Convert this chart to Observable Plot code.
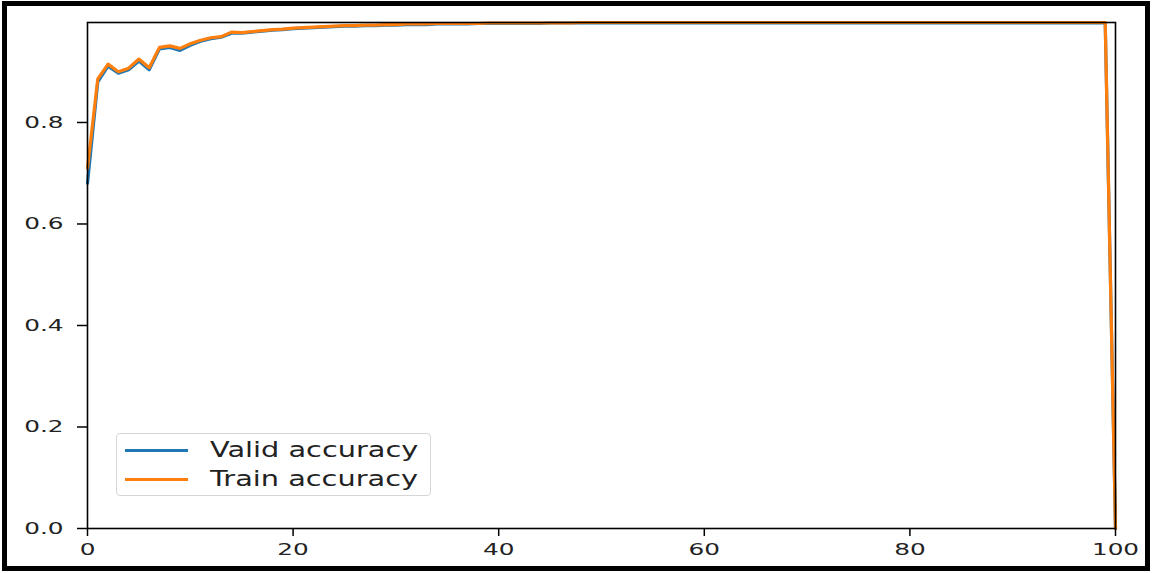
<!DOCTYPE html>
<html>
<head>
<meta charset="utf-8">
<script src="https://cdn.jsdelivr.net/npm/d3@7"></script>
<script src="https://cdn.jsdelivr.net/npm/@observablehq/plot@0.6"></script>
<style>
  html, body { margin: 0; padding: 0; background: #fff; }
  #wrap { position: relative; width: 1153px; height: 574px; overflow: hidden; }
  #border {
    position: absolute; left: 2px; top: 1px; width: 1148px; height: 570px;
    box-sizing: border-box; border: 5px solid #000; pointer-events: none;
  }
  #legend {
    position: absolute; left: 116px; top: 433px; width: 315px; height: 63px;
    box-sizing: border-box; border: 1.5px solid #d6d6d6; border-radius: 4px;
    background: rgba(255,255,255,0.8);
    font-family: "DejaVu Sans", sans-serif; font-size: 21px; color: #222;
  }
  .entry { position: absolute; left: 8px; height: 28px; display: flex; align-items: center; }
  .swatch { width: 63px; height: 3px; margin-right: 22px; flex: none; }
  .label { display: inline-block; transform: scaleX(1.37); transform-origin: left center; white-space: nowrap; }
</style>
</head>
<body>
<div id="wrap">
  <div id="chart"></div>
  <div id="legend"></div>
  <div id="border"></div>
</div>
<script>
// Accuracy per epoch for the validation and training runs
const epochs = [
  0, 1, 2, 3, 4, 5, 6, 7, 8, 9,
  10, 11, 12, 13, 14, 15, 16, 17, 18, 19,
  20, 21, 22, 23, 24, 25, 26, 27, 28, 29,
  30, 31, 32, 33, 34, 35, 36, 37, 38, 39,
  40, 41, 42, 43, 44, 45, 46, 47, 48, 49,
  50, 51, 52, 53, 54, 55, 56, 57, 58, 59,
  60, 61, 62, 63, 64, 65, 66, 67, 68, 69,
  70, 71, 72, 73, 74, 75, 76, 77, 78, 79,
  80, 81, 82, 83, 84, 85, 86, 87, 88, 89,
  90, 91, 92, 93, 94, 95, 96, 97, 98, 99,
  100
];

const validAccuracy = [
  0.680, 0.880, 0.911, 0.897, 0.904, 0.921, 0.904, 0.945, 0.948, 0.942,
  0.952, 0.960, 0.965, 0.968, 0.976, 0.976, 0.978, 0.980, 0.982, 0.983,
  0.985, 0.986, 0.987, 0.988, 0.989, 0.990, 0.990, 0.991, 0.991, 0.992,
  0.992, 0.993, 0.993, 0.993, 0.994, 0.994, 0.994, 0.994, 0.995, 0.995,
  0.995, 0.995, 0.995, 0.995, 0.995, 0.996, 0.996, 0.996, 0.996, 0.996,
  0.996, 0.996, 0.996, 0.996, 0.996, 0.996, 0.996, 0.996, 0.996, 0.996,
  0.996, 0.996, 0.996, 0.996, 0.996, 0.996, 0.996, 0.996, 0.996, 0.996,
  0.996, 0.996, 0.996, 0.996, 0.996, 0.996, 0.996, 0.996, 0.996, 0.996,
  0.996, 0.996, 0.996, 0.996, 0.996, 0.996, 0.996, 0.996, 0.996, 0.996,
  0.996, 0.996, 0.996, 0.996, 0.996, 0.996, 0.996, 0.996, 0.996, 0.996,
  0.000
];

const trainAccuracy = [
  0.710, 0.886, 0.915, 0.900, 0.907, 0.925, 0.908, 0.948, 0.951, 0.946,
  0.955, 0.962, 0.967, 0.969, 0.978, 0.977, 0.979, 0.981, 0.983, 0.984,
  0.986, 0.987, 0.988, 0.989, 0.990, 0.991, 0.991, 0.992, 0.992, 0.993,
  0.993, 0.994, 0.994, 0.994, 0.995, 0.995, 0.995, 0.995, 0.995, 0.996,
  0.996, 0.996, 0.996, 0.996, 0.996, 0.996, 0.996, 0.996, 0.997, 0.997,
  0.997, 0.997, 0.997, 0.997, 0.997, 0.997, 0.997, 0.997, 0.997, 0.997,
  0.997, 0.997, 0.997, 0.997, 0.997, 0.997, 0.997, 0.997, 0.997, 0.997,
  0.997, 0.997, 0.997, 0.997, 0.997, 0.997, 0.997, 0.997, 0.997, 0.997,
  0.997, 0.997, 0.997, 0.997, 0.997, 0.997, 0.997, 0.997, 0.997, 0.997,
  0.997, 0.997, 0.997, 0.997, 0.997, 0.997, 0.997, 0.997, 0.997, 0.997,
  0.000
];

const seriesNames = ["Valid accuracy", "Train accuracy"];
const seriesColors = ["#1f77b4", "#ff7f0e"];
const xTicks = [0, 20, 40, 60, 80, 100];
const yTicks = [0.0, 0.2, 0.4, 0.6, 0.8];

const rows = [];
[validAccuracy, trainAccuracy].forEach((vals, s) => {
  vals.forEach((v, i) => rows.push({epoch: epochs[i], acc: v, series: seriesNames[s]}));
});

const chart = Plot.plot({
  width: 1153,
  height: 574,
  marginLeft: 87,
  marginRight: 38,
  marginTop: 22,
  marginBottom: 46,
  style: {fontFamily: "'DejaVu Sans', sans-serif", fontSize: "16.5px", color: "#222", background: "transparent"},
  x: {domain: [0, 100], ticks: xTicks},
  y: {domain: [0, 0.997], ticks: yTicks},
  color: {domain: seriesNames, range: seriesColors},
  marks: [
    Plot.line(rows, {x: "epoch", y: "acc", z: "series", stroke: "series", strokeWidth: 3.2, strokeLinejoin: "round"}),
    Plot.axisX({ticks: xTicks, tickSize: 8, tickPadding: 7, tickFormat: d => String(d), label: null, stroke: "#000", strokeWidth: 1.5, fill: "#222"}),
    Plot.axisY({ticks: yTicks, tickSize: 10, tickPadding: 14, tickFormat: d => d.toFixed(1), label: null, stroke: "#000", strokeWidth: 1.5, fill: "#222"}),
    Plot.frame({stroke: "#000", strokeWidth: 1.6})
  ]
});

// Widen the tick labels horizontally around their anchor points
// (each label is placed by its own translate, so a trailing scale keeps the anchor fixed)
const stretch = 1.5;
chart.querySelectorAll("text").forEach((t) => {
  const tr = t.getAttribute("transform") || "";
  t.setAttribute("transform", `${tr} scale(${stretch},1)`);
});
document.getElementById("chart").appendChild(chart);

// Legend in the lower-left corner of the axes
const legend = document.getElementById("legend");
seriesNames.forEach((name, i) => {
  const e = document.createElement("div");
  e.className = "entry";
  e.style.top = (i === 0 ? 2 : 31) + "px";
  const sw = document.createElement("span");
  sw.className = "swatch";
  sw.style.background = seriesColors[i];
  const t = document.createElement("span");
  t.className = "label";
  t.textContent = name;
  e.appendChild(sw);
  e.appendChild(t);
  legend.appendChild(e);
});
</script>
</body>
</html>
